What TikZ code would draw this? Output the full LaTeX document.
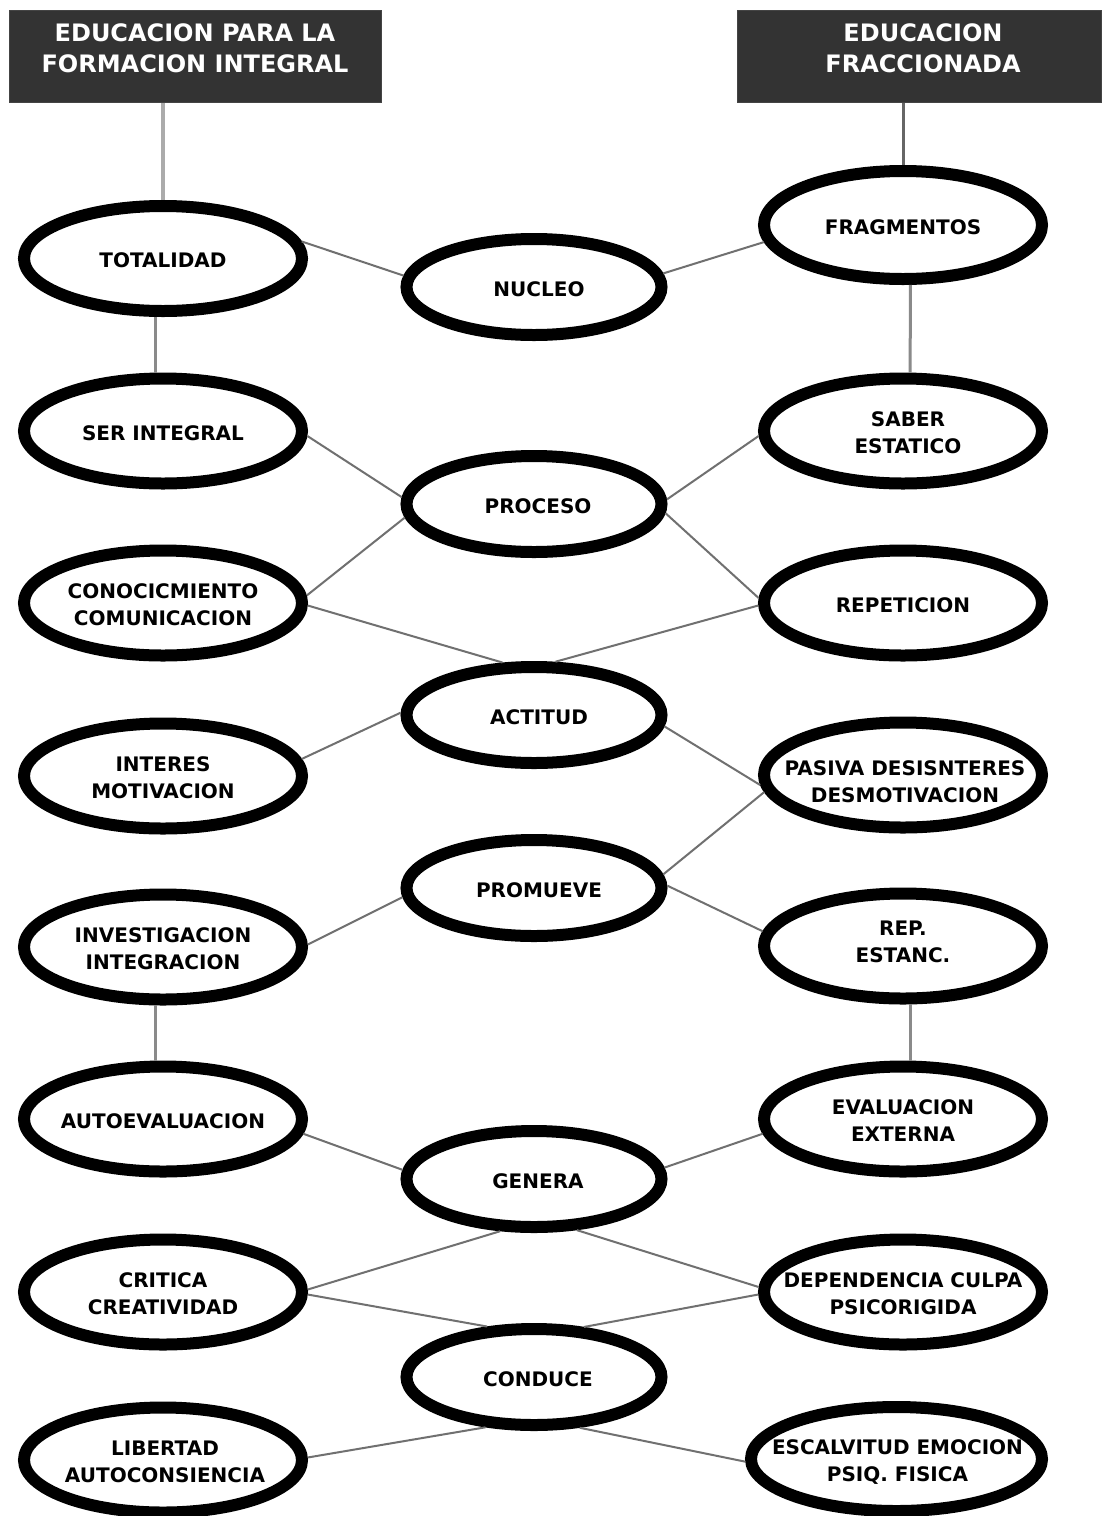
\documentclass[tikz,border=0pt]{standalone}
\usepackage{fontspec}
\setmainfont{DejaVu Sans}
\usetikzlibrary{shapes.geometric}

\definecolor{hdrfill}{HTML}{333333}
\definecolor{hdredge}{HTML}{444444}
\definecolor{linkgray}{HTML}{707070}
\definecolor{stemgray}{HTML}{8A8A8A}
\definecolor{lightstem}{HTML}{ABABAB}

% centred multi-line label of zero width, so the ellipse keeps its set size;
% #1 nudges it sideways (half of it is the shift), #2 moves it up or down
\newcommand\lbl[3]{\makebox[0pt]{\hspace*{#1}\raisebox{#2}[\height][\depth]{\begin{tabular}{@{}c@{}}#3\end{tabular}}}}
\newcommand\ctext[2][0pt]{\lbl{#1}{-4pt}{#2}}

\tikzset{
  idea/.style={ellipse, draw=black, line width=12pt, fill=white, inner sep=0pt,
    text=black, font=\bfseries\fontsize{20}{27}\selectfont},
  sideidea/.style={idea, minimum width=278pt, minimum height=105pt},
  wideidea/.style={idea, minimum width=291pt, minimum height=104pt},
  mididea/.style={idea, minimum width=255pt, minimum height=96pt},
  header/.style={rectangle, fill=hdrfill, draw=hdredge, line width=1pt,
    minimum width=372pt, minimum height=92pt, inner sep=0pt},
  headtext/.style={text=white, inner sep=0pt,
    font=\bfseries\fontsize{24}{31}\selectfont},
  link/.style={draw=linkgray, line width=2pt},
  stem/.style={draw=stemgray, line width=3pt},
  headstemL/.style={draw=lightstem, line width=3.5pt},
  headstemR/.style={draw=black!60, line width=3pt},
}

\begin{document}
\begin{tikzpicture}[x=1pt, y=-1pt]
  \useasboundingbox[fill=white] (0,0) rectangle (1102,1516);

  % title boxes
  \node[header] (hl) at (195.5,56.5) {};
  \node[header, minimum width=364pt] (hr) at (919.5,56.5) {};
  \node[headtext] (hltext) at (195,51) {\lbl{0pt}{0pt}{EDUCACION PARA LA\\FORMACION INTEGRAL}};
  \node[headtext] (hrtext) at (923,51) {\lbl{0pt}{0pt}{EDUCACION\\FRACCIONADA}};

  % left column
  \node[sideidea] (tot)  at (163,258.5) {\ctext{TOTALIDAD}};
  \node[sideidea] (ser)  at (163,431)   {\ctext{SER INTEGRAL}};
  \node[sideidea] (cono) at (163,603)   {\ctext{CONOCICMIENTO\\COMUNICACION}};
  \node[sideidea] (inte) at (163,776)   {\ctext{INTERES\\MOTIVACION}};
  \node[sideidea] (inve) at (163,947)   {\ctext{INVESTIGACION\\INTEGRACION}};
  \node[sideidea] (auto) at (163,1119)  {\ctext{AUTOEVALUACION}};
  \node[sideidea] (crit) at (163,1292)  {\ctext{CRITICA\\CREATIVIDAD}};
  \node[sideidea] (libe) at (163,1460)  {\ctext[4pt]{LIBERTAD\\AUTOCONSIENCIA}};

  % middle column
  \node[mididea] (nuc)  at (534,287)  {\ctext[10pt]{NUCLEO}};
  \node[mididea] (pro)  at (534,504)  {\ctext[8pt]{PROCESO}};
  \node[mididea] (act)  at (534,715)  {\ctext[10pt]{ACTITUD}};
  \node[mididea] (prm)  at (534,888)  {\ctext[10pt]{PROMUEVE}};
  \node[mididea] (gen)  at (534,1179) {\ctext[8pt]{GENERA}};
  \node[mididea] (cond) at (534,1377) {\ctext[8pt]{CONDUCE}};

  % right column
  \node[sideidea, minimum height=108pt] (fra) at (903,225) {\ctext{FRAGMENTOS}};
  \node[sideidea] (sab) at (903,431)  {\ctext[10pt]{SABER\\ESTATICO}};
  \node[sideidea] (rep) at (903,603)  {\ctext{REPETICION}};
  \node[sideidea] (pas) at (903,775)  {\lbl{4pt}{-9pt}{PASIVA DESISNTERES\\DESMOTIVACION}};
  \node[sideidea] (res) at (903,946)  {\lbl{0pt}{2pt}{REP.\\ESTANC.}};
  \node[sideidea] (eva) at (903,1119) {\ctext{EVALUACION\\EXTERNA}};
  \node[sideidea] (dep) at (903,1292) {\ctext{DEPENDENCIA CULPA\\PSICORIGIDA}};
  \node[wideidea] (esc) at (896.5,1459) {\ctext[2pt]{ESCALVITUD EMOCION\\PSIQ. FISICA}};

  % stems from the title boxes
  \draw[headstemL] (hl.south -| tot.north) -- (tot.north);
  \draw[headstemR] (hr.south -| fra.north) -- (fra.north);

  % vertical links inside the side columns
  \draw[stem] (tot.-97)  -- (ser.97);
  \draw[stem] (inve.-97) -- (auto.97);
  \draw[stem] (fra.-83)  -- (sab.83);
  \draw[stem] (res.-83)  -- (eva.83);

  % cross links through the middle column
  \draw[link] (tot.7)    -- (nuc.175);
  \draw[link] (nuc.6)    -- (fra.187);
  \draw[link] (ser.-2)   -- (pro.177);
  \draw[link] (cono.3)   -- (pro.186);
  \draw[link] (pro.2)    -- (sab.182);
  \draw[link] (pro.-4)   -- (rep.178);
  \draw[link] (cono.-1)  -- (act.121);
  \draw[link] (rep.181)  -- (act.68);
  \draw[link] (inte.7)   -- (act.179);
  \draw[link] (act.-5)   -- (pas.184);
  \draw[link] (pas.187)  -- (prm.6);
  \draw[link] (prm.1)    -- (res.174);
  \draw[link] (inve.1)   -- (prm.184);
  \draw[link] (auto.-6)  -- (gen.176);
  \draw[link] (gen.5)    -- (eva.186);
  \draw[link] (crit.1)   -- (gen.237);
  \draw[link] (gen.-50)  -- (dep.178);
  \draw[link] (crit.-1)  -- (cond.133);
  \draw[link] (dep.181)  -- (cond.45);
  \draw[link] (libe.1)   -- (cond.226);
  \draw[link] (cond.-48) -- (esc.181);
\end{tikzpicture}
\end{document}
